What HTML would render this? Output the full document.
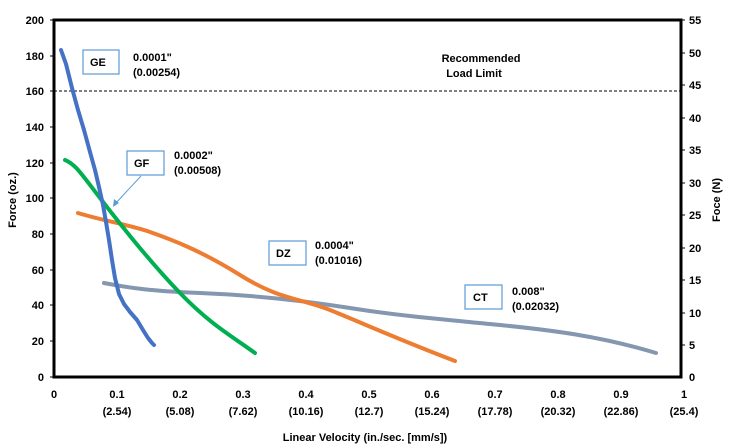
<!DOCTYPE html>
<html><head><style>body{margin:0;background:#fff}svg{display:block;font-family:"Liberation Sans",Arial,sans-serif;font-weight:bold}</style></head>
<body>
<svg width="729" height="448" viewBox="0 0 729 448">
<g font-size="11" fill="#000">
<g text-anchor="end">
<text x="44" y="24">200</text><text x="44" y="60">180</text><text x="44" y="95">160</text><text x="44" y="131">140</text><text x="44" y="167">120</text><text x="44" y="202">100</text><text x="44" y="238">80</text><text x="44" y="274">60</text><text x="44" y="309">40</text><text x="44" y="345">20</text><text x="44" y="381">0</text>
</g>
<g text-anchor="start">
<text x="689" y="24">55</text><text x="689" y="57">50</text><text x="689" y="89">45</text><text x="689" y="122">40</text><text x="689" y="154">35</text><text x="689" y="187">30</text><text x="689" y="219">25</text><text x="689" y="252">20</text><text x="689" y="284">15</text><text x="689" y="317">10</text><text x="689" y="349">5</text><text x="689" y="381">0</text>
</g>
<g text-anchor="middle">
<text x="54" y="398">0</text>
<text x="117" y="398">0.1</text><text x="180" y="398">0.2</text><text x="243" y="398">0.3</text><text x="306" y="398">0.4</text><text x="369" y="398">0.5</text><text x="432" y="398">0.6</text><text x="495" y="398">0.7</text><text x="558" y="398">0.8</text><text x="621" y="398">0.9</text><text x="684" y="398">1</text>
<text x="117" y="415">(2.54)</text><text x="180" y="415">(5.08)</text><text x="243" y="415">(7.62)</text><text x="306" y="415">(10.16)</text><text x="369" y="415">(12.7)</text><text x="432" y="415">(15.24)</text><text x="495" y="415">(17.78)</text><text x="558" y="415">(20.32)</text><text x="621" y="415">(22.86)</text><text x="684" y="415">(25.4)</text>
<text x="365" y="441">Linear Velocity (in./sec. [mm/s])</text>
<text transform="translate(16,200) rotate(-90)">Force (oz.)</text>
<text transform="translate(720,200) rotate(-90)">Foce (N)</text>
<text x="481" y="62">Recommended</text><text x="474" y="77">Load Limit</text>
</g>
</g>
<g stroke="#000" stroke-width="1">
<path d="M50 20H54M50 56H54M50 91H54M50 127H54M50 163H54M50 198H54M50 234H54M50 270H54M50 305H54M50 341H54M50 377H54"/>
<path d="M681 20H685M681 53H685M681 85H685M681 118H685M681 150H685M681 183H685M681 215H685M681 248H685M681 280H685M681 313H685M681 345H685"/>
</g>
<path d="M54 91H681" stroke="#000" stroke-width="1" stroke-dasharray="3,2"/>
<rect x="54" y="20" width="627" height="357" fill="none" stroke="#000" stroke-width="3"/>
<g fill="none" stroke-linecap="round" stroke-linejoin="round" stroke-width="4">
<path stroke="#8496b0" d="M104 283C130 288 150 291 200 293S300 300 350 308 450 320 500 325 600 336 656 353"/>
<path stroke="#ed7d31" d="M78 213C100 220 130 225 150 232S200 250 240 275 300 298 330 310 390 336 455 361"/>
<path stroke="#00b050" d="M65 160C75 164 80 172 100 198S150 262 180 293 230 335 255 353"/>
<polyline stroke="#4472c4" points="61,50 66,64 72,88 78,110 84,130 90,152 95,170 99,187 103,205 106,222 109,240 112,260 115,278 119,294 124,304 130,312 137,320 143,330 148,338 152,343 154,345"/>
</g>
<path d="M141 176L115 204" stroke="#5b9bd5" stroke-width="1"/>
<path d="M113 207L114 199L119 203Z" fill="#5b9bd5"/>
<g fill="#fff" stroke="#5b9bd5" stroke-width="1.2">
<rect x="83" y="50" width="36" height="24"/><rect x="127" y="151" width="37" height="24"/><rect x="269" y="241" width="37" height="24"/><rect x="465" y="285" width="37" height="24"/>
</g>
<g font-size="11" fill="#000">
<text x="90" y="66">GE</text><text x="134" y="167">GF</text><text x="276" y="257">DZ</text><text x="473" y="301">CT</text>
<text x="133" y="61">0.0001"</text><text x="133" y="76">(0.00254)</text>
<text x="174" y="159">0.0002"</text><text x="174" y="174">(0.00508)</text>
<text x="315" y="249">0.0004"</text><text x="315" y="264">(0.01016)</text>
<text x="512" y="295">0.008"</text><text x="512" y="310">(0.02032)</text>
</g>
</svg>
</body></html>
